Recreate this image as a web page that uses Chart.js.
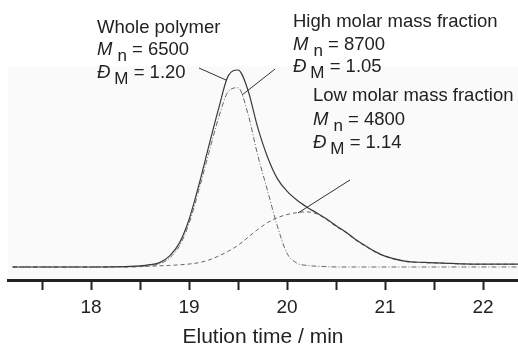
<!DOCTYPE html>
<html>
<head>
<meta charset="utf-8">
<script src="https://cdn.jsdelivr.net/npm/chart.js@4/dist/chart.umd.min.js"></script>
<style>
html,body{margin:0;padding:0;background:#fff;}
#wrap{width:518px;height:352px;position:relative;}
</style>
</head>
<body>
<div id="wrap"><canvas id="c" width="518" height="352"></canvas></div>
<script>
// ---- data ----
const timeMin = [17.2, 17.6, 18.0, 18.2, 18.4, 18.5, 18.6, 18.7, 18.8, 18.9, 19.0, 19.1, 19.2, 19.3, 19.4, 19.5, 19.6, 19.7, 19.8, 19.9, 20.0, 20.1, 20.2, 20.3, 20.4, 20.5, 20.6, 20.7, 20.8, 20.9, 21.0, 21.2, 21.4, 21.6, 21.8, 22.0, 22.2, 22.36];
const wholePolymer = [0, 0, 0, 0.001, 0.003, 0.006, 0.012, 0.022, 0.055, 0.12, 0.24, 0.415, 0.61, 0.80, 0.97, 1.0, 0.90, 0.71, 0.56, 0.45, 0.385, 0.34, 0.305, 0.275, 0.245, 0.21, 0.178, 0.14, 0.108, 0.078, 0.055, 0.03, 0.023, 0.02, 0.016, 0.015, 0.015, 0.015];
const highFraction = [0, 0, 0, 0, 0.001, 0.003, 0.008, 0.016, 0.045, 0.105, 0.22, 0.39, 0.575, 0.755, 0.89, 0.91, 0.78, 0.57, 0.39, 0.21, 0.07, 0.02, 0.008, 0.004, 0.002, 0, 0, 0, 0, 0, 0, 0, 0, 0, 0, 0, 0, 0];
const lowFraction = [0, 0, 0, 0, 0, 0.002, 0.004, 0.006, 0.008, 0.011, 0.015, 0.022, 0.035, 0.055, 0.08, 0.11, 0.15, 0.19, 0.225, 0.25, 0.266, 0.276, 0.28, 0.27, 0.242, 0.206, 0.175, 0.137, 0.105, 0.076, 0.054, 0.029, 0.022, 0.019, 0.015, 0.014, 0.014, 0.014];
const tickValues = [17.5, 18, 18.5, 19, 19.5, 20, 20.5, 21, 21.5, 22];
const tickLabels = ['', '18', '', '19', '', '20', '', '21', '', '22'];
const axisTitle = 'Elution time / min';

// annotation blocks (positions in data units)
const annWhole = {x: 18.061, y: [1.190, 1.076, 0.959], name: 'Whole polymer', sym1: 'M', sub1: 'n', v1: ' = 6500', sym2: 'Đ', sub2: 'M', v2: ' = 1.20', leader: [19.102, 1.010, 19.378, 0.949]};
const annHigh = {x: 20.061, y: [1.218, 1.102, 0.990], name: 'High molar mass fraction', sym1: 'M', sub1: 'n', v1: ' = 8700', sym2: 'Đ', sub2: 'M', v2: ' = 1.05', leader: [19.878, 1.005, 19.541, 0.873]};
const annLow = {x: 20.265, y: [0.845, 0.721, 0.604], name: 'Low molar mass fraction', sym1: 'M', sub1: 'n', v1: ' = 4800', sym2: 'Đ', sub2: 'M', v2: ' = 1.14', leader: [20.643, 0.442, 20.112, 0.274]};
const annotations = [annWhole, annHigh, annLow];

const FONT = '"Liberation Sans", Arial, Helvetica, sans-serif';
const toXY = (ys) => timeMin.map((t, i) => ({x: t, y: ys[i]}));

const bgPlugin = {
  id: 'bg',
  beforeDraw(chart) {
    const a = chart.chartArea, ctx = chart.ctx;
    ctx.save();
    ctx.fillStyle = '#fafafa';
    ctx.fillRect(a.left, a.top, a.right - a.left, a.bottom - a.top);
    ctx.restore();
  }
};

const annPlugin = {
  id: 'ann',
  afterDraw(chart) {
    const ctx = chart.ctx, xs = chart.scales.x, ys = chart.scales.y;
    ctx.save();
    ctx.fillStyle = '#222';
    ctx.textBaseline = 'alphabetic';
    ctx.textAlign = 'left';
    const main = '18.5px ' + FONT, ital = 'italic 18.5px ' + FONT, sub = '17px ' + FONT;
    function rich(x, y, sym, subTxt, val, gap) {
      ctx.font = ital; ctx.fillText(sym, x, y);
      let cx = x + ctx.measureText(sym).width + gap;
      ctx.font = sub; ctx.fillText(subTxt, cx, y + 6);
      cx += ctx.measureText(subTxt).width;
      ctx.font = main; ctx.fillText(val, cx, y);
    }
    annotations.forEach(a => {
      const px = xs.getPixelForValue(a.x);
      ctx.font = main;
      ctx.fillText(a.name, px, ys.getPixelForValue(a.y[0]));
      rich(px, ys.getPixelForValue(a.y[1]), a.sym1, a.sub1, a.v1, 5);
      rich(px, ys.getPixelForValue(a.y[2]), a.sym2, a.sub2, a.v2, 4);
      const L = a.leader;
      ctx.strokeStyle = '#333'; ctx.lineWidth = 1;
      ctx.beginPath();
      ctx.moveTo(xs.getPixelForValue(L[0]), ys.getPixelForValue(L[1]));
      ctx.lineTo(xs.getPixelForValue(L[2]), ys.getPixelForValue(L[3]));
      ctx.stroke();
    });
    ctx.restore();
  }
};

new Chart(document.getElementById('c'), {
  type: 'line',
  data: {
    datasets: [
      {label: 'Whole polymer', data: toXY(wholePolymer), borderColor: '#3a3a3a', borderWidth: 1.2, pointRadius: 0, cubicInterpolationMode: 'monotone', fill: false},
      {label: 'High molar mass fraction', data: toXY(highFraction), borderColor: '#666', borderWidth: 1, borderDash: [5, 2, 1, 2], pointRadius: 0, cubicInterpolationMode: 'monotone', fill: false},
      {label: 'Low molar mass fraction', data: toXY(lowFraction), borderColor: '#666', borderWidth: 1, borderDash: [4, 3], pointRadius: 0, cubicInterpolationMode: 'monotone', fill: false}
    ]
  },
  options: {
    responsive: false,
    animation: false,
    devicePixelRatio: 1,
    layout: {padding: {left: 8, right: 0, top: 66, bottom: 0}},
    plugins: {legend: {display: false}, tooltip: {enabled: false}},
    scales: {
      x: {
        type: 'linear', min: 17.153, max: 22.357,
        afterBuildTicks: (s) => { s.ticks = tickValues.map(v => ({value: v})); },
        ticks: {
          autoSkip: false, maxRotation: 0, padding: 6, color: '#222',
          font: {family: FONT, size: 19},
          callback: (v) => { const i = tickValues.indexOf(v); return i >= 0 ? tickLabels[i] : ''; }
        },
        grid: {drawOnChartArea: false, drawTicks: true, tickLength: 10, tickWidth: 2, tickColor: '#222'},
        border: {display: true, color: '#222', width: 3},
        title: {display: true, text: axisTitle, color: '#222', font: {family: FONT, size: 21}, padding: {top: 0, bottom: 2}}
      },
      y: {
        type: 'linear', display: false, min: -0.066, max: 1.0203
      }
    }
  },
  plugins: [bgPlugin, annPlugin]
});
</script>
</body>
</html>
